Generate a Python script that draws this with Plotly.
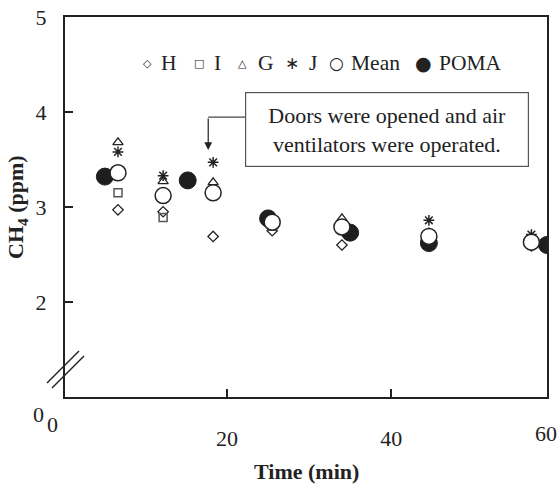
import plotly.graph_objects as go

# ---- data ----
t_sites = [6.7, 12.2, 18.3, 25.5, 34.0, 44.6, 57.1]
H = [2.97, 2.95, 2.69, 2.75, 2.60, 2.64, 2.59]
I = [3.15, 2.89, 3.15, 2.80, 2.80, 2.67, 2.61]
G = [3.68, 3.27, 3.26, 2.82, 2.88, 2.73, 2.65]
J = [3.58, 3.33, 3.47, 2.84, 2.82, 2.86, 2.71]
Mean = [3.36, 3.12, 3.15, 2.84, 2.79, 2.69, 2.63]
t_poma = [5.1, 15.2, 25.0, 35.0, 44.6, 59.0]
POMA = [3.32, 3.28, 2.88, 2.73, 2.62, 2.60]

series_names = ["H", "I", "G", "J", "Mean", "POMA"]
legend_glyphs = ["\u25C7", "\u25A1", "\u25B3", "\u2217", "\u25CB", "\u25CF"]

x_ticks = [20, 40]
x_ticktext = ["20", "40"]
y_ticks = [2, 3, 4, 5]
y_ticktext = ["2", "3", "4", "5"]

FONT = "Liberation Serif, Times New Roman, serif"
INK = "#222"

fig = go.Figure()

fig.add_trace(go.Scatter(x=t_poma, y=POMA, mode="markers", name="POMA",
                         marker=dict(symbol="circle", size=17, color="#1e1e1e",
                                     line=dict(color="#1e1e1e", width=1))))
fig.add_trace(go.Scatter(x=t_sites, y=H, mode="markers", name="H",
                         marker=dict(symbol="diamond-open", size=8, color=INK,
                                     line=dict(width=1.3))))
fig.add_trace(go.Scatter(x=t_sites, y=I, mode="markers", name="I",
                         marker=dict(symbol="square-open", size=8, color="#555",
                                     line=dict(width=1.5))))
fig.add_trace(go.Scatter(x=t_sites, y=G, mode="markers", name="G",
                         marker=dict(symbol="triangle-up-open", size=9, color=INK,
                                     line=dict(width=1.3))))
fig.add_trace(go.Scatter(x=t_sites, y=J, mode="markers", name="J",
                         marker=dict(symbol="asterisk-open", size=9, color=INK,
                                     line=dict(width=1.5))))
fig.add_trace(go.Scatter(x=t_sites, y=Mean, mode="markers", name="Mean",
                         marker=dict(symbol="circle", size=16, color="white",
                                     line=dict(color=INK, width=1.5))))

fig.update_layout(
    width=558, height=485,
    margin=dict(l=65, r=11, t=17, b=88, autoexpand=False),
    paper_bgcolor="white", plot_bgcolor="white",
    font=dict(family=FONT, color=INK, size=20),
    showlegend=False,
    xaxis=dict(range=[0.24, 59.0], tickvals=x_ticks, ticktext=x_ticktext,
               ticks="inside", ticklen=8, tickwidth=1.5, tickcolor=INK,
               showline=True, linecolor=INK, linewidth=2, mirror=True,
               showgrid=False, zeroline=False, ticklabelstandoff=21, automargin=False,
               tickfont=dict(family=FONT, size=22, color=INK)),
    yaxis=dict(range=[1, 5], tickvals=y_ticks, ticktext=y_ticktext,
               ticks="inside", ticklen=8, tickwidth=1.5, tickcolor=INK,
               showline=True, linecolor=INK, linewidth=2, mirror=True,
               showgrid=False, zeroline=False, ticklabelstandoff=12, automargin=False,
               tickfont=dict(family=FONT, size=22, color=INK)),
)

# legend drawn as typed text with symbol glyphs (as in the reference)
glyph_px = [147, 199, 242, 292, 336, 423]
text_px = [159, 212, 256, 307, 349, 437]
glyph_sizes = [11, 11, 11, 17, 17, 19]
for name, g, gx, tx, gs in zip(series_names, legend_glyphs, glyph_px, text_px, glyph_sizes):
    fig.add_annotation(xref="paper", yref="paper", x=(gx - 65) / 482, y=(397 - 63) / 380,
                       xanchor="center", yanchor="middle", text=g, showarrow=False,
                       font=dict(family="DejaVu Sans", size=gs, color=INK))
    fig.add_annotation(xref="paper", yref="paper", x=(tx - 65) / 482, y=(397 - 63) / 380,
                       xanchor="left", yanchor="middle", text=name, showarrow=False,
                       font=dict(family=FONT, size=21.5, color=INK))

# axis titles
fig.add_annotation(xref="paper", yref="paper", x=0.5, y=-0.197, yanchor="middle",
                   text="<b>Time (min)</b>", showarrow=False,
                   font=dict(family=FONT, size=22, color=INK))
fig.add_annotation(xref="paper", yref="paper", x=-0.0996, xanchor="center", y=0.5,
                   yanchor="middle",
                   text="<b>CH<sub>4</sub> (ppm)</b>", textangle=-90, showarrow=False,
                   font=dict(family=FONT, size=22, color=INK))

# zero labels and 60 label
fig.add_annotation(xref="paper", yref="paper", x=-0.056, y=-0.045, text="0",
                   xanchor="center", yanchor="middle",
                   showarrow=False, font=dict(family=FONT, size=22, color=INK))
fig.add_annotation(xref="paper", yref="paper", x=-0.025, y=-0.072, text="0",
                   xanchor="center", yanchor="middle",
                   showarrow=False, font=dict(family=FONT, size=22, color=INK))
fig.add_annotation(xref="paper", yref="paper", x=0.998, y=-0.097, text="60",
                   xanchor="center", yanchor="middle",
                   showarrow=False, font=dict(family=FONT, size=22, color=INK))

# text box
fig.add_annotation(xref="x", yref="y", x=39.5, y=3.82,
                   text="Doors were opened and air<br>ventilators were operated.",
                   showarrow=False, width=272, height=63, borderpad=5,
                   bordercolor="#555", borderwidth=1.2, bgcolor="white",
                   font=dict(family=FONT, size=22, color=INK))
# elbow arrow
fig.add_shape(type="line", xref="x", yref="y", x0=17.7, x1=22.3, y0=3.947, y1=3.947,
              line=dict(color="#444", width=1.2))
fig.add_annotation(xref="x", yref="y", x=17.7, y=3.60, ax=0, ay=-33, text="",
                   showarrow=True, arrowhead=2, arrowsize=1.3, arrowwidth=1.2,
                   arrowcolor=INK)

# axis break marks
for dx in (0, 5):
    fig.add_shape(type="line", xref="paper", yref="paper",
                  x0=(-18 + dx) / 482, y0=(14 - dx) / 380,
                  x1=(14 + dx) / 482, y1=(46 - dx) / 380,
                  line=dict(color=INK, width=1.5))

fig.write_html("out.html", config={"displayModeBar": False},
               post_script="document.body.style.margin='0';")
